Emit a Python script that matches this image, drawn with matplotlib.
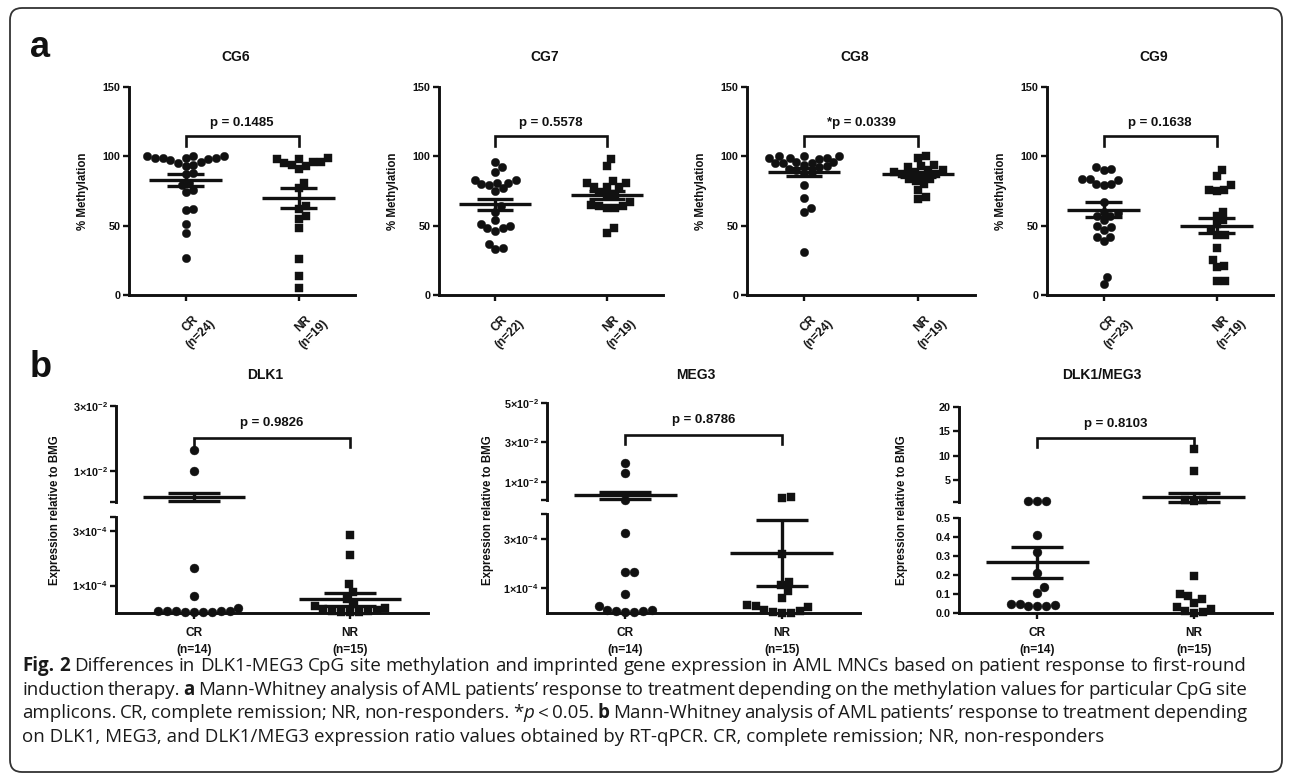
import numpy as np
import matplotlib
matplotlib.use("Agg")
import matplotlib.pyplot as plt
from matplotlib.patches import FancyBboxPatch
from matplotlib.transforms import IdentityTransform, ScaledTranslation, blended_transform_factory

# ---------------- data ----------------
groups = ["CR", "NR"]

# panel a : % methylation per CpG site
cg_names = ["CG6", "CG7", "CG8", "CG9"]
cg_n_cr = [24, 22, 24, 23]
cg_n_nr = [19, 19, 19, 19]
cg_pvals = ["p = 0.1485", "p = 0.5578", "*p = 0.0339", "p = 0.1638"]

cg6_cr = [100, 100, 99, 99, 99, 98, 100, 99, 97, 95, 94, 93, 96, 88, 87, 81, 79, 76, 74, 62, 61, 51, 45, 27]
cg6_nr = [98, 96, 94, 91, 99, 93, 95, 96, 98, 81, 77, 64, 62, 55, 57, 48, 26, 14, 5]
cg7_cr = [96, 89, 92, 83, 81, 80, 77, 75, 79, 81, 83, 64, 60, 54, 50, 48, 46, 48, 51, 37, 33, 34]
cg7_nr = [93, 98, 78, 78, 82, 81, 78, 81, 73, 74, 72, 67, 64, 63, 63, 64, 65, 45, 48]
cg8_cr = [99, 100, 98, 100, 99, 100, 99, 96, 95, 95, 96, 94, 95, 93, 92, 91, 90, 89, 88, 79, 70, 63, 60, 31]
cg8_nr = [100, 99, 89, 94, 92, 90, 90, 93, 89, 87, 84, 82, 84, 86, 87, 76, 80, 69, 71]
cg9_cr = [91, 90, 92, 84, 80, 79, 80, 83, 84, 67, 60, 54, 49, 47, 50, 57, 59, 42, 39, 42, 8, 13, 57]
cg9_nr = [86, 90, 79, 76, 75, 76, 60, 54, 51, 57, 43, 47, 43, 34, 21, 20, 25, 10, 10]

cg_mean_cr = [83, 65.5, 88.5, 61.4]
cg_sem_cr = [4.5, 4.0, 2.8, 5.4]
cg_mean_nr = [70, 72, 87, 50]
cg_sem_nr = [7.0, 2.9, 2.0, 5.3]

# panel b : expression relative to BMG
expr_names = ["DLK1", "MEG3", "DLK1/MEG3"]
expr_n_cr = [14, 14, 14]
expr_n_nr = [15, 15, 15]
expr_pvals = ["p = 0.9826", "p = 0.8786", "p = 0.8103"]

dlk1_cr = [0.0164, 0.0100, 1.65e-4, 0.61e-4, 0.20e-4, 0.08e-4, 0.07e-4, 0.07e-4,
           0.06e-4, 0.06e-4, 0.05e-4, 0.05e-4, 0.04e-4, 0.04e-4]
dlk1_nr = [2.85e-4, 2.10e-4, 1.05e-4, 0.75e-4, 0.50e-4, 0.32e-4, 0.26e-4, 0.20e-4,
           0.15e-4, 0.10e-4, 0.08e-4, 0.06e-4, 0.05e-4, 0.04e-4, 0.03e-4]
meg3_cr = [0.0198, 0.0147, 0.0010, 3.24e-4, 1.66e-4, 1.66e-4, 0.78e-4, 0.28e-4,
           0.13e-4, 0.11e-4, 0.08e-4, 0.03e-4, 0.03e-4, 0.10e-4]
meg3_nr = [0.0026, 0.0018, 2.40e-4, 1.26e-4, 1.12e-4, 0.89e-4, 0.62e-4, 0.32e-4,
           0.30e-4, 0.25e-4, 0.12e-4, 0.10e-4, 0.05e-4, 0.02e-4, 0.02e-4]
ratio_cr = [0.80, 0.78, 0.76, 0.408, 0.319, 0.21, 0.137, 0.105, 0.049, 0.049, 0.044, 0.038, 0.035, 0.035]
ratio_nr = [11.4, 6.9, 1.0, 0.85, 0.7, 0.196, 0.10, 0.091, 0.074, 0.053, 0.03, 0.02, 0.008, 0.005, 0.0]

expr_mean_cr = [1.9e-3, 3.2e-3, 0.268]
expr_sem_cr = [1.3e-3, 1.8e-3, 0.082]
expr_mean_nr = [0.5e-4, 2.43e-4, 1.44]
expr_sem_nr = [0.23e-4, 1.32e-4, 0.85]

# broken y axes: lower / upper segment limits and ticks
expr_low_lim = [(0, 3.5e-4), (0, 4.0e-4), (0, 0.5)]
expr_up_lim = [(3.5e-4, 3e-2), (8.4e-4, 5e-2), (0.5, 20)]
expr_low_ticks = [[1e-4, 3e-4], [1e-4, 3e-4], [0, 0.1, 0.2, 0.3, 0.4, 0.5]]
expr_up_ticks = [[1e-2, 3e-2], [1e-2, 3e-2, 5e-2], [5, 10, 15, 20]]

caption = [
    [("Fig. 2", "bold", "normal"),
     (" Differences in DLK1-MEG3 CpG site methylation and imprinted gene expression in AML MNCs based on patient response to first-round", "normal", "normal")],
    [("induction therapy.", "normal", "normal"), (" a", "bold", "normal"),
     (" Mann-Whitney analysis of AML patients\u2019 response to treatment depending on the methylation values for particular CpG site", "normal", "normal")],
    [("amplicons. CR, complete remission; NR, non-responders. *", "normal", "normal"), ("p", "normal", "italic"),
     (" < 0.05.", "normal", "normal"), (" b", "bold", "normal"),
     (" Mann-Whitney analysis of AML patients\u2019 response to treatment depending", "normal", "normal")],
    [("on DLK1, MEG3, and DLK1/MEG3 expression ratio values obtained by RT-qPCR. CR, complete remission; NR, non-responders", "normal", "normal")],
]

# ---------------- style ----------------
W, H = 1290, 782
ink = "#111111"
plt.rcParams["font.family"] = ["Liberation Sans", "DejaVu Sans"]
plt.rcParams["font.weight"] = "bold"
plt.rcParams["mathtext.fontset"] = "custom"
plt.rcParams["mathtext.rm"] = "Liberation Sans:bold"
plt.rcParams["mathtext.it"] = "Liberation Sans:bold:italic"
plt.rcParams["mathtext.bf"] = "Liberation Sans:bold"
plt.rcParams["mathtext.default"] = "rm"
cap_font = ["Open Sans", "DejaVu Sans"]

fig = plt.figure(figsize=(W / 100, H / 100), dpi=100)


def rect(l, t, r, b):
    return [l / W, 1 - b / H, (r - l) / W, (b - t) / H]


def swarm(vals, ypx, xpx, d):
    # beeswarm offsets, computed in pixel space
    vals = np.asarray(vals, float)
    offs = np.zeros(len(vals))
    placed = []
    for i in np.argsort(vals, kind="stable"):
        y = vals[i] * ypx
        near = [(px, py) for px, py in placed if abs(py - y) < d]
        cands = [0.0]
        for px, py in near:
            dx = np.sqrt(d * d - (py - y) ** 2)
            cands += [px + dx, px - dx]
        cands.sort(key=abs)
        for c in cands:
            if all((c - px) ** 2 + (y - py) ** 2 >= d * d - 1e-6 for px, py in near):
                break
        placed.append((c, y))
        offs[i] = c / xpx
    return offs


def dots(ax, x, vals, marker, ms, ypx, xpx, d):
    vals = np.asarray(vals, float)
    if len(vals) == 0:
        return
    off = swarm(vals, ypx, xpx, d)
    ax.plot(x + off, vals, ls="none", marker=marker, ms=ms, color=ink, mec=ink,
            mew=0.3, clip_on=False, zorder=3)


def mean_sem(ax, x, m, s, lo=-np.inf, hi=np.inf, half=0.32, cap=0.16):
    kw = dict(color=ink, lw=2.4, solid_capstyle="butt", clip_on=False, zorder=4)
    if lo <= m <= hi:
        ax.plot([x - half, x + half], [m, m], **kw)
    for v in (m - s, m + s):
        if lo <= v <= hi:
            ax.plot([x - cap, x + cap], [v, v], **kw)
    a, b = max(m - s, lo), min(m + s, hi)
    if a < b:
        ax.plot([x, x], [a, b], **kw)


def bracket(ax, text, y_bar, y_leg, y_txt, size):
    tr = blended_transform_factory(ax.transData, ax.transAxes)
    ax.plot([1, 1, 2, 2], [y_leg, y_bar, y_bar, y_leg], transform=tr, color=ink,
            lw=1.9, clip_on=False, solid_joinstyle="miter", zorder=4)
    ax.text(1.5, y_txt, text, transform=tr, ha="center", va="center",
            fontsize=size, fontweight="bold", color=ink)


def base_axis(ax, left=True, bottom=True):
    for s in ["top", "right"]:
        ax.spines[s].set_visible(False)
    ax.spines["left"].set_visible(left)
    ax.spines["bottom"].set_visible(bottom)
    for s in ["left", "bottom"]:
        ax.spines[s].set_linewidth(2.1)
        ax.spines[s].set_color(ink)
        ax.spines[s].set_capstyle("projecting")
    ax.tick_params(width=1.7, length=4, colors=ink, labelsize=7.8, pad=2)
    ax.patch.set_alpha(0)
    ax.set_xlim(0.5, 2.5)


def sci(v):
    if v == 0:
        return ""
    e = int(np.floor(np.log10(v)))
    c = int(round(v / 10 ** e))
    return r"$%d{\times}10^{%d}$" % (c, e)


# ---------------- panel a ----------------
cg_cr = [cg6_cr, cg7_cr, cg8_cr, cg9_cr]
cg_nr = [cg6_nr, cg7_nr, cg8_nr, cg9_nr]
a_left = [129, 439, 747, 1047]
a_right = [355, 663, 975, 1273]
a_top, a_bot = 87, 295

for k in range(4):
    ax = fig.add_axes(rect(a_left[k], a_top, a_right[k], a_bot))
    base_axis(ax)
    ax.set_ylim(0, 150)
    ax.set_yticks([0, 50, 100, 150])
    ypx = (a_bot - a_top) / 150
    xpx = (a_right[k] - a_left[k]) / 2
    dots(ax, 1, cg_cr[k], "o", 6.0, ypx, xpx, 8.0)
    dots(ax, 2, cg_nr[k], "s", 5.6, ypx, xpx, 8.0)
    mean_sem(ax, 1, cg_mean_cr[k], cg_sem_cr[k])
    mean_sem(ax, 2, cg_mean_nr[k], cg_sem_nr[k])
    bracket(ax, cg_pvals[k], 0.765, 0.715, 0.825, 9.5)
    ax.set_xticks([1, 2])
    ax.set_xticklabels(["%s\n(n=%d)" % (groups[0], cg_n_cr[k]), "%s\n(n=%d)" % (groups[1], cg_n_nr[k])],
                       rotation=45, ha="center", va="top", linespacing=1.3, fontsize=8.6)
    ax.tick_params(axis="x", pad=5)
    for lab in ax.get_xticklabels():
        lab.set_transform(lab.get_transform() + ScaledTranslation(7 / 72, 0, fig.dpi_scale_trans))
    cx = (a_left[k] + a_right[k]) / 2 - 6
    fig.text(cx / W, 1 - 57 / H, cg_names[k], ha="center", va="center", fontsize=10, color=ink)
    fig.text((a_left[k] - 46) / W, 1 - ((a_top + a_bot) / 2) / H, "% Methylation", rotation=90,
             ha="center", va="center", fontsize=8.3, color=ink)

# ---------------- panel b ----------------
ex_cr = [dlk1_cr, meg3_cr, ratio_cr]
ex_nr = [dlk1_nr, meg3_nr, ratio_nr]
b_left = [116, 547, 959]
b_right = [428, 860, 1272]
b_up = [(406, 502), (403, 500), (407, 502)]
b_low = [(517, 613), (514, 613), (518, 613)]
b_title_x = [265, 696, 1102]
b_ylab_x = [55, 488, 902]

for k in range(3):
    xpx = (b_right[k] - b_left[k]) / 2
    lo_lim, up_lim = expr_low_lim[k], expr_up_lim[k]

    axl = fig.add_axes(rect(b_left[k], b_low[k][0], b_right[k], b_low[k][1]))
    base_axis(axl)
    axl.set_ylim(*lo_lim)
    if k < 2:
        lt = expr_low_ticks[k] + [lo_lim[1]]
        labels = [sci(t) for t in expr_low_ticks[k]] + [""]
    else:
        lt = expr_low_ticks[k]
        labels = ["%.1f" % t for t in expr_low_ticks[k]]
    axl.set_yticks(lt)
    axl.set_yticklabels(labels)
    axl.set_xticks([1, 2])
    axl.set_xticklabels(["%s\n(n=%d)" % (groups[0], expr_n_cr[k]), "%s\n(n=%d)" % (groups[1], expr_n_nr[k])],
                        linespacing=1.6, fontsize=8.6)
    axl.tick_params(axis="x", pad=6)

    axu = fig.add_axes(rect(b_left[k], b_up[k][0], b_right[k], b_up[k][1]))
    base_axis(axu, bottom=False)
    axu.set_ylim(*up_lim)
    axu.set_yticks([up_lim[0]] + expr_up_ticks[k])
    if k < 2:
        axu.set_yticklabels([""] + [sci(t) for t in expr_up_ticks[k]])
    else:
        axu.set_yticklabels([""] + ["%d" % t for t in expr_up_ticks[k]])
    axu.tick_params(axis="x", bottom=False, labelbottom=False)

    ypx_l = (b_low[k][1] - b_low[k][0]) / (lo_lim[1] - lo_lim[0])
    ypx_u = (b_up[k][1] - b_up[k][0]) / (up_lim[1] - up_lim[0])
    for x, vals, mk, ms in [(1, ex_cr[k], "o", 6.4), (2, ex_nr[k], "s", 5.9)]:
        vals = np.asarray(vals, float)
        dots(axl, x, vals[vals <= lo_lim[1]], mk, ms, ypx_l, xpx, 9.0)
        dots(axu, x, vals[vals > lo_lim[1]], mk, ms, ypx_u, xpx, 9.0)
    for ax, (lo, hi) in [(axl, lo_lim), (axu, up_lim)]:
        mean_sem(ax, 1, expr_mean_cr[k], expr_sem_cr[k], lo, hi, 0.33, 0.165)
        mean_sem(ax, 2, expr_mean_nr[k], expr_sem_nr[k], lo, hi, 0.33, 0.165)
    bracket(axu, expr_pvals[k], 0.67, 0.575, 0.82, 9.5)

    fig.text(b_title_x[k] / W, 1 - 375 / H, expr_names[k], ha="center", va="center", fontsize=10, color=ink)
    fig.text(b_ylab_x[k] / W, 1 - 510 / H, "Expression relative to BMG", rotation=90,
             ha="center", va="center", fontsize=8.3, color=ink)

# panel letters
fig.text(30 / W, 1 - 57 / H, "a", fontsize=26, ha="left", va="baseline", color=ink)
fig.text(30 / W, 1 - 377 / H, "b", fontsize=26, ha="left", va="baseline", color=ink)

# ---------------- caption (justified, last line ragged) ----------------
renderer = fig.canvas.get_renderer()


def text_w(s, size, wt="normal", st="normal"):
    t = fig.text(0, 0, s, fontsize=size, family=cap_font, fontweight=wt, fontstyle=st)
    w = t.get_window_extent(renderer).width
    t.remove()
    return w


cap_size = 12 * 1075 / text_w(caption[3][0][0], 12)
cap_x0, cap_x1 = 22, 1247
cap_base = [671, 695, 718, 742]

for li, (line, yb) in enumerate(zip(caption, cap_base)):
    if li == len(caption) - 1:
        # last line: natural word spacing
        fig.text(cap_x0 / W, 1 - yb / H, line[0][0], fontsize=cap_size, family=cap_font,
                 fontweight="normal", ha="left", va="baseline", color="#1a1a1a")
        continue
    words = [[]]
    for txt, wt, st in line:
        for j, p in enumerate(txt.split(" ")):
            if j > 0:
                words.append([])
            if p:
                words[-1].append((p, wt, st))
    words = [w for w in words if w]
    widths = [[text_w(p, cap_size, wt, st) for p, wt, st in w] for w in words]
    total = sum(sum(w) for w in widths)
    gap = (cap_x1 - cap_x0 - total) / (len(words) - 1)
    x = cap_x0
    for w, ws in zip(words, widths):
        for (p, wt, st), pw in zip(w, ws):
            fig.text(x / W, 1 - yb / H, p, fontsize=cap_size, family=cap_font, fontweight=wt,
                     fontstyle=st, ha="left", va="baseline", color="#1a1a1a")
            x += pw
        x += gap

# rounded frame
frame = FancyBboxPatch((10, H - 772), 1272, 764, boxstyle="round,pad=0,rounding_size=12",
                       transform=IdentityTransform(), fill=False, lw=1.3, ec="#333333")
fig.patches.append(frame)

fig.savefig("out.png", dpi=100)
